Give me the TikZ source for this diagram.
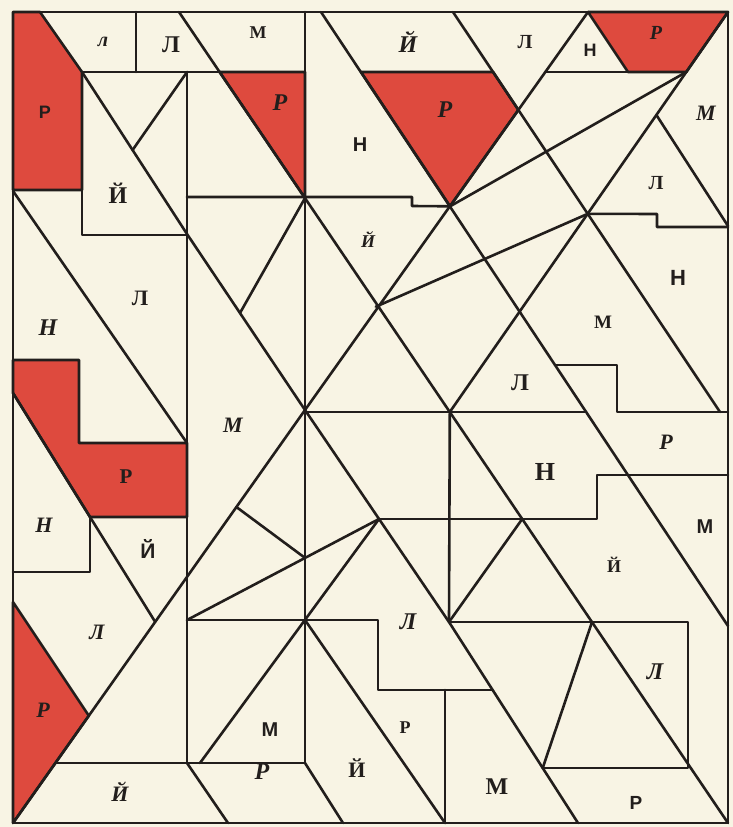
\documentclass[tikz,border=0pt]{standalone}
\usepackage{fontspec}
\setmainfont{Liberation Serif}
\setsansfont{Liberation Sans}
\usepackage{xcolor}
\usepackage{tikz}
\definecolor{paper}{RGB}{248,244,228}
\definecolor{brick}{RGB}{222,74,62}
\definecolor{ink}{RGB}{34,30,28}

\begin{document}
\begin{tikzpicture}[
      x=1pt, y=-1pt,
      cut/.style={draw=ink, line width=2.6pt, line cap=round, line join=round},
      redpart/.style={fill=brick, draw=ink, line width=2.6pt, line join=round},
      lbl/.style={font=\fontsize{#1}{#1}\selectfont\bfseries, text=ink, inner sep=0pt},
      lbl/.default=22,
      ilbl/.style={font=\fontsize{#1}{#1}\selectfont\bfseries\itshape, text=ink, inner sep=0pt},
      ilbl/.default=22,
      slbl/.style={font=\fontsize{#1}{#1}\selectfont\sffamily\bfseries, text=ink, inner sep=0pt},
      slbl/.default=20
    ]
    \fill[paper] (0,0) rectangle (733,827);
    \useasboundingbox (0,0) rectangle (733,827);

    \coordinate (tl) at (13,12);
    \coordinate (tr) at (728,12);
    \coordinate (br) at (728,823);
    \coordinate (bl) at (13,823);
    \coordinate (ctr) at (305,410);
    \coordinate (u2t) at (588,12);
    \coordinate (d3t) at (179,12);
    \coordinate (d4t) at (321,12);
    \coordinate (d4b) at (728,626);
    \coordinate (d5t) at (453,12);
    \coordinate (d5b) at (720,412);
    \coordinate (u1b) at (449.8,412);
    \coordinate (x1) at (450.1,206.3);
    \coordinate (x2) at (375.8,306.7);
    \coordinate (x3) at (587.8,213.8);
    \coordinate (x4) at (379,519);
    \coordinate (x5) at (522.2,519);
    \coordinate (x6) at (449,622);
    \coordinate (x7) at (592,622);
    \coordinate (x8) at (542.7,768);

    \draw[redpart] (13,12) -- (40,12) -- (82,72) -- (82,190) -- (13,190) -- cycle;
    \draw[redpart] (219.6,72) -- (305,72) -- (305,198.1) -- cycle;
    \draw[redpart] (361,72) -- (493.1,72) -- (518.4,109.9) -- (x1) -- cycle;
    \draw[redpart] (u2t) -- (tr) -- (686.3,72) -- (628,72) -- cycle;
    \draw[redpart] (13,360) -- (79,360) -- (79,443) -- (187,443) -- (187,517)
        -- (90,517) -- (13,393) -- cycle;
    \draw[redpart] (13,602) -- (88.8,715.7) -- (bl) -- cycle;

    \draw[cut] (tl) rectangle (br);
    \draw[cut] (82,72) -- (82,235) -- (187,235);
    \draw[cut] (136,12) -- (136,72);
    \draw[cut] (82,72) -- (305,72);
    \draw[cut] (545.3,72) -- (686.3,72);
    \draw[cut] (187,72) -- (187,763);
    \draw[cut] (305,12) -- (305,763);
    \draw[cut] (187,72) -- (132.6,150);
    \draw[cut] (82,72) -- (187,234) -- (ctr) -- (x6) -- (578,823);
    \draw[cut] (bl) -- (ctr) -- (u2t);
    \draw[cut] (d3t) -- (br);
    \draw[cut] (d4t) -- (d4b);
    \draw[cut] (d5t) -- (d5b);
    \draw[cut] (tr) -- (u1b);
    \draw[cut] (13,191) -- (187,443);
    \draw[cut] (13,393) -- (155.2,621.9);
    \draw[cut] (187,197) -- (412,197) -- (412,206) -- (x1);
    \draw[cut] (305,198.1) -- (240,313);
    \draw[cut] (x1) -- (686.3,72);
    \draw[cut] (x2) -- (x3);
    \draw[cut] (x3) -- (657,214) -- (657,227) -- (728,227);
    \draw[cut] (656.4,115) -- (728,226);
    \draw[cut] (305,412) -- (586.1,412);
    \draw[cut] (555,365) -- (617,365) -- (617,412) -- (728,412);
    \draw[cut] (x4) -- (597,519) -- (597,475) -- (728,475);
    \draw[cut] (u1b) -- (x6);
    \draw[cut] (x5) -- (x6);
    \draw[cut] (x6) -- (688,622) -- (688,768) -- (x8);
    \draw[cut] (x7) -- (x8);
    \draw[cut] (187,620) -- (x4);
    \draw[cut] (x4) -- (200,763);
    \draw[cut] (236.4,507) -- (305,557.9);
    \draw[cut] (187,620) -- (378,620) -- (378,690) -- (492.6,690);
    \draw[cut] (305,620) -- (445,823);
    \draw[cut] (445,690) -- (445,823);
    \draw[cut] (55.4,763) -- (305,763);
    \draw[cut] (187,763) -- (228,823);
    \draw[cut] (305,763) -- (343,823);
    \draw[cut] (13,572) -- (90,572) -- (90,517);

    \node[slbl=18] (r1) at (45,112) {Р};
    \node[ilbl=20] (l1) at (103,42) {л};
    \node[lbl=24] (l2) at (171,45) {Л};
    \node[lbl=18] (m1) at (258,33) {М};
    \node[ilbl=24] (r2) at (280,103) {Р};
    \node[lbl=24] (j1) at (118,193) {Й};
    \node[slbl=20] (n1) at (360,145) {Н};
    \node[ilbl=24] (j2) at (408,42) {Й};
    \node[lbl=20] (l3) at (525,42) {Л};
    \node[slbl=18] (n2) at (590,50) {Н};
    \node[ilbl=20] (r3) at (656,33) {Р};
    \node[ilbl=24] (r4) at (445,110) {Р};
    \node[ilbl=22] (m2) at (706,113) {М};
    \node[lbl=20] (l4) at (656,183) {Л};
    \node[ilbl=18] (j3) at (368,240) {Й};
    \node[slbl=22] (n3) at (678,278) {Н};
    \node[lbl=22] (l5) at (140,298) {Л};
    \node[ilbl=24] (n4) at (48,328) {Н};
    \node[lbl=19] (m3) at (603,322) {М};
    \node[lbl=24] (l6) at (520,383) {Л};
    \node[ilbl=22] (m4) at (233,425) {М};
    \node[ilbl=22] (r5) at (666,442) {Р};
    \node[lbl=21] (r6) at (126,477) {Р};
    \node[lbl=26] (n5) at (545,472) {Н};
    \node[ilbl=22] (n6) at (44,525) {Н};
    \node[slbl=21] (j4) at (148,549) {Й};
    \node[slbl=20] (m5) at (705,527) {М};
    \node[lbl=18] (j5) at (614,565) {Й};
    \node[ilbl=22] (l7) at (97,632) {Л};
    \node[ilbl=24] (l8) at (408,622) {Л};
    \node[ilbl=24] (l9) at (655,672) {Л};
    \node[ilbl=22] (r7) at (43,710) {Р};
    \node[slbl=20] (m6) at (270,730) {М};
    \node[lbl=18] (r8) at (405,728) {Р};
    \node[lbl=22] (j6) at (357,768) {Й};
    \node[ilbl=22] (j7) at (120,792) {Й};
    \node[ilbl=24] (r9) at (262,772) {Р};
    \node[lbl=24] (m7) at (497,787) {М};
    \node[slbl=19] (r10) at (636,803) {Р};
  \end{tikzpicture}
\end{document}
